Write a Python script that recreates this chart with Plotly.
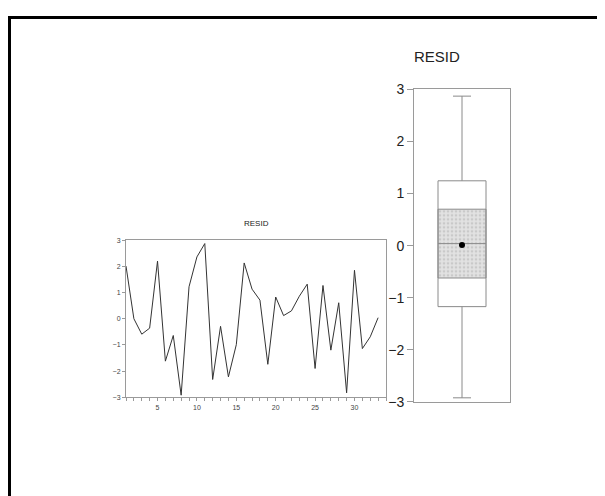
import numpy as np
import plotly.graph_objs as go

# residual series, observations 1..33
obs = list(range(1, 34))
resid = [2.01, 0.00, -0.59, -0.36, 2.20, -1.62, -0.64, -2.92, 1.22, 2.36,
         2.87, -2.32, -0.29, -2.22, -0.99, 2.13, 1.13, 0.71, -1.74, 0.83,
         0.12, 0.30, 0.86, 1.32, -1.90, 1.27, -1.20, 0.61, -2.83, 1.85,
         -1.14, -0.69, 0.04]
series_name = "RESID"
yticks = [-3, -2, -1, 0, 1, 2, 3]

# box statistics (median confidence interval gets the shaded band)
s = np.sort(np.array(resid))
n = len(s)
med = float(np.median(s))
q1 = float(np.median(s[:n // 2]))
q3 = float(np.median(s[n // 2 + 1:]))
half = 1.57 * (q3 - q1) / np.sqrt(n)
ci_lo, ci_hi = med - half, med + half
mean = float(np.mean(s))

W, H = 589, 496


# page pixel -> paper fraction (as the page gets photographed)
def px(x):
    return (x - 8) / W


def py(y):
    return 1 - ((y - 16) / 0.967) / H


font = "Arial, Liberation Sans, sans-serif"
grey = "#9a9a9a"

fig = go.Figure()

# small line chart
fig.add_trace(go.Scatter(x=obs, y=resid, mode="lines",
                         line=dict(color="#333333", width=1),
                         xaxis="x", yaxis="y", showlegend=False))

# shaded median CI band
fig.add_trace(go.Bar(x=[0], y=[ci_hi - ci_lo], base=[ci_lo], width=1,
                     marker=dict(color="#e2e2e2",
                                 line=dict(color="#8a8a8a", width=1),
                                 pattern=dict(shape=".", fgcolor="#b0b0b0",
                                              size=4, solidity=0.35,
                                              fillmode="overlay")),
                     xaxis="x2", yaxis="y2", showlegend=False))

# box with whiskers
fig.add_trace(go.Box(y=resid, x0=0, width=1, whiskerwidth=0.375,
                     quartilemethod="exclusive", boxpoints=False,
                     fillcolor="rgba(0,0,0,0)",
                     line=dict(color="#8a8a8a", width=1),
                     xaxis="x2", yaxis="y2", showlegend=False))

# mean dot
fig.add_trace(go.Scatter(x=[0], y=[mean], mode="markers",
                         marker=dict(color="black", size=6),
                         xaxis="x2", yaxis="y2", showlegend=False))

fig.update_layout(
    width=W, height=H,
    margin=dict(l=0, r=0, t=0, b=0),
    paper_bgcolor="white", plot_bgcolor="white",
    font=dict(family=font, color="#333333"),
    xaxis=dict(domain=[px(126), px(386)], anchor="y", range=[1, 34],
               tick0=0, dtick=5,
               ticks="outside", ticklen=3, tickcolor=grey,
               minor=dict(dtick=1, ticks="outside", ticklen=3, tickcolor=grey),
               showline=True, linecolor=grey, mirror=True, showgrid=False,
               zeroline=False, tickfont=dict(size=7, color="#444444")),
    yaxis=dict(domain=[py(397), py(240)], anchor="x", range=[-3, 3],
               tickvals=yticks, ticks="outside", ticklen=3, tickcolor=grey,
               showline=True, linecolor=grey, mirror=True, showgrid=False,
               zeroline=False, tickfont=dict(size=7, color="#444444")),
    xaxis2=dict(domain=[px(414), px(510)], anchor="y2", range=[-1, 1],
                showticklabels=False, ticks="", showgrid=False, zeroline=False,
                showline=True, linecolor=grey, mirror=True),
    yaxis2=dict(domain=[py(401.7), py(89.3)], anchor="x2", range=[-3, 3],
                tickvals=yticks, ticks="outside", ticklen=6, tickcolor=grey,
                showline=True, linecolor=grey, mirror=True, showgrid=False,
                zeroline=False, tickfont=dict(size=14, color="#222222")),
    annotations=[
        dict(text=series_name, xref="paper", yref="paper",
             x=px(256), y=py(223), yanchor="middle", showarrow=False,
             font=dict(size=8, color="#222222")),
        dict(text=series_name, xref="paper", yref="paper",
             x=px(462), y=py(56), yanchor="middle", showarrow=False,
             font=dict(size=15, color="#222222")),
    ],
    shapes=[
        dict(type="line", xref="paper", yref="paper",
             x0=px(8), x1=1.02, y0=1 - 1.5 / H, y1=1 - 1.5 / H,
             line=dict(color="black", width=3)),
        dict(type="line", xref="paper", yref="paper",
             x0=px(9.5), x1=px(9.5), y0=1 - 1.5 / H, y1=-0.02,
             line=dict(color="black", width=3)),
    ],
)

fig.write_html("out.html")
